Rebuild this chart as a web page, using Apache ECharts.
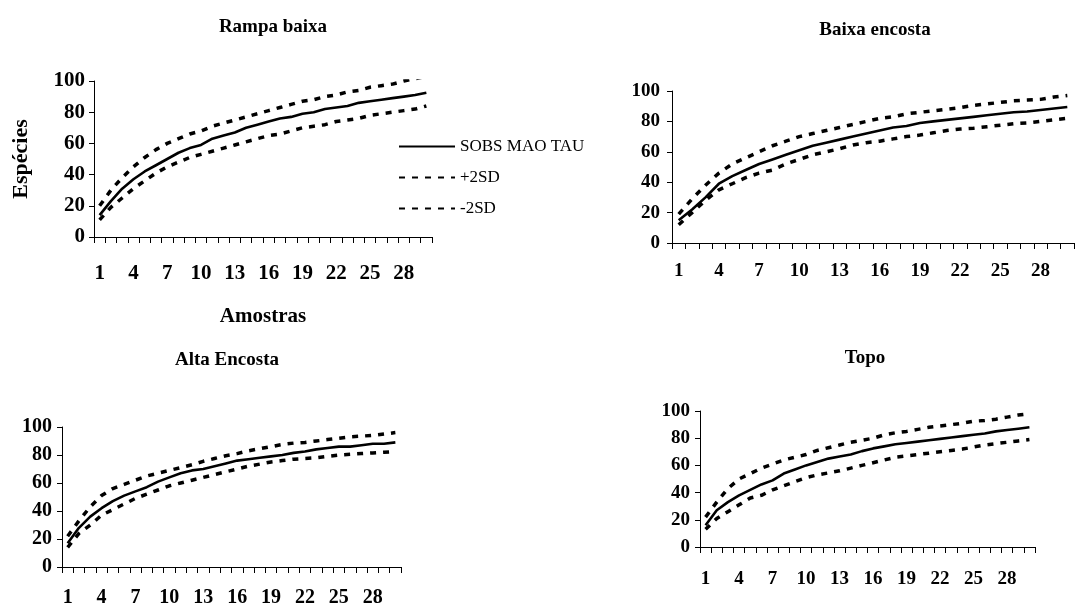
<!DOCTYPE html>
<html>
<head>
<meta charset="utf-8">
<script src="https://cdn.jsdelivr.net/npm/echarts@6/dist/echarts.min.js"></script>
<style>
html,body{margin:0;padding:0;background:#fff;}
#chart{width:1080px;height:608px;}
</style>
</head>
<body>
<div id="chart"></div>
<script>
// Categories (amostras) 1..30
const categories = ['1','2','3','4','5','6','7','8','9','10','11','12','13','14','15','16','17','18','19','20','21','22','23','24','25','26','27','28','29','30'];
const panelTitles = ['Rampa baixa', 'Baixa encosta', 'Alta Encosta', 'Topo'];
const seriesNames = ['SOBS MAO TAU', '+2SD', '-2SD'];
const yTicks = [0, 20, 40, 60, 80, 100];

// Rampa baixa
const rampaSobs = [14,23,31,37,42,46,50,54,57,59,63,65,67,70,72,74,76,77,79,80,82,83,84,86,87,88,89,90,91,92.5];
const rampaUp   = [20,30,38,45,51,56,60,63,66,68,71,73,75,77,79,81,83,85,87,88,90,91,93,94,96,97,98,100,101.5,103];
const rampaLow  = [11,19,25,31,36,41,45,48,51,53,55,57,59,61,63,65,66,68,70,71,72,74,75,76,78,79,80,81,82,84];

// Baixa encosta
const baixaSobs = [15,22,30,39,44,48,52,55,58,61,64,66,68,70,72,74,76,77,79,80,81,82,83,84,85,86,86.5,87.5,88.5,89.5];
const baixaUp   = [19,29,38,46,52,56,60,64,67,70,72,74,76,78,80,82,83,85,86,87,88,89,90.5,91.5,92.5,93.5,94,94.5,96,97];
const baixaLow  = [12,20,28,35,39,43,46,48,52,55,58,60,62,64.5,66,67,68.5,70,71,72.5,74,75,75.5,76.5,77.5,78.5,79,80,81,82];

// Alta Encosta
const altaSobs = [17,28,36,42,47,51,54,57,61,64,67,69,70,72,74,76,77,78,79,80,81.5,82.5,84,85,86,86,87,88,88,89];
const altaUp   = [22,33,43,51,56,59,62,65,67,69,71,73,75.5,77.5,79.5,81,83,84.5,86,87.5,88.5,89,90,91,92,93,93.5,94,95,96];
const altaLow  = [14,24,30,37,41,45,49,52,55,58,60,62,64,66,68,70,72,73.5,75,76,77,77.5,78,79,80,80.5,81,81.5,82,82.5];

// Topo
const topoSobs = [16,27,33,38,42,46,49,54,57,60,62.5,65,66.5,68,70.5,72.5,74,75.5,76.5,77.5,78.5,79.5,80.5,81.5,82.5,83.5,85,86,87,88];
const topoUp   = [22,33,43,50,54,58,61,64,66,68,71,73,75,77,78.5,80,82.5,84,85,86.5,88,89,90,91,92.5,93,94,95.5,97,98];
const topoLow  = [13,21,26,31,36,38,42,45,48,51,53,54.5,56,58,60,62,64,66,67,68,69,70,71,72,73.5,75,76,77,78,79];

const panelData = [
  [rampaSobs, rampaUp, rampaLow],
  [baixaSobs, baixaUp, baixaLow],
  [altaSobs, altaUp, altaLow],
  [topoSobs, topoUp, topoLow]
];

const FONT = '"Liberation Serif", "Times New Roman", serif';

// layout (positions only)
const grids = [
  {left: 94,  top: 81,  width: 338, height: 156},
  {left: 672, top: 91,  width: 402, height: 152},
  {left: 62,  top: 427, width: 339, height: 141},
  {left: 700, top: 411, width: 335, height: 136}
];
const titlePos = [
  {x: 268, y: 13},
  {x: 870, y: 16},
  {x: 222, y: 346},
  {x: 860, y: 344}
];
const labelSize = [21, 19, 20, 19];
const xLabelMargin = [26, 19, 21, 23];
const yLabelMargin = [9, 12, 10, 10];

const option = {
  backgroundColor: '#ffffff',
  animation: false,
  title: panelTitles.map((t, i) => ({
    text: t,
    left: titlePos[i].x,
    top: titlePos[i].y,
    textAlign: 'center',
    textStyle: {fontFamily: FONT, fontWeight: 'bold', fontSize: 19, color: '#000'}
  })),
  legend: {
    data: seriesNames,
    orient: 'vertical',
    left: 393,
    top: 133,
    itemWidth: 56,
    itemHeight: 14,
    itemGap: 14,
    itemStyle: {opacity: 0},
    textStyle: {fontFamily: FONT, fontSize: 17, color: '#000'},
    selectedMode: false
  },
  grid: grids.map(g => Object.assign({containLabel: false}, g)),
  xAxis: grids.map((g, i) => ({
    type: 'category',
    gridIndex: i,
    data: categories,
    boundaryGap: true,
    axisLine: {lineStyle: {color: '#000', width: 1}},
    axisTick: {show: true, interval: 0, length: 6, lineStyle: {color: '#000'}},
    axisLabel: {interval: 2, margin: xLabelMargin[i], fontFamily: FONT, fontWeight: 'bold', fontSize: labelSize[i], color: '#000'},
    splitLine: {show: false},
    name: i === 0 ? 'Amostras' : '',
    nameLocation: 'middle',
    nameGap: 69,
    nameTextStyle: {fontFamily: FONT, fontWeight: 'bold', fontSize: 21, color: '#000'}
  })),
  yAxis: grids.map((g, i) => ({
    type: 'value',
    gridIndex: i,
    min: yTicks[0],
    max: yTicks[yTicks.length - 1],
    interval: yTicks[1] - yTicks[0],
    axisLine: {show: true, lineStyle: {color: '#000', width: 1}},
    axisTick: {show: true, length: 5, lineStyle: {color: '#000'}},
    axisLabel: {margin: yLabelMargin[i], fontFamily: FONT, fontWeight: 'bold', fontSize: labelSize[i], color: '#000'},
    splitLine: {show: false},
    name: i === 0 ? 'Espécies' : '',
    nameLocation: 'middle',
    nameGap: 62,
    nameRotate: 90,
    nameTextStyle: {fontFamily: FONT, fontWeight: 'bold', fontSize: 22, color: '#000'}
  })),
  series: []
};

panelData.forEach((arr, i) => {
  arr.forEach((vals, k) => {
    option.series.push({
      type: 'line',
      name: seriesNames[k],
      xAxisIndex: i,
      yAxisIndex: i,
      data: vals,
      symbol: 'none',
      smooth: false,
      clip: true,
      color: '#000',
      lineStyle: k === 0
        ? {color: '#000', width: 2.6, type: 'solid'}
        : {color: '#000', width: 3.5, type: [6, 7]},
      z: k === 0 ? 3 : 2
    });
  });
});

const chart = echarts.init(document.getElementById('chart'), null, {renderer: 'canvas'});
chart.setOption(option);
</script>
</body>
</html>
